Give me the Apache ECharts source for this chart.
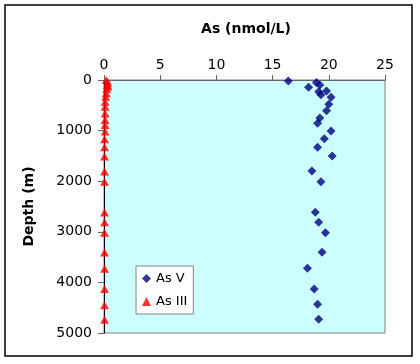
<!DOCTYPE html>
<html><head><meta charset="utf-8">
<script src="https://cdn.jsdelivr.net/npm/echarts@6/dist/echarts.min.js"></script>
<style>html,body{margin:0;padding:0;background:#fff}#c{width:420px;height:364px}</style>
</head><body><div id="c"></div>
<script>
const xTicks = [0, 5, 10, 15, 20, 25];
const yTicks = [0, 1000, 2000, 3000, 4000, 5000];
const asVDepth = [20, 50, 100, 145, 215, 230, 290, 340, 480, 607, 750, 856, 1008, 1160, 1330, 1500, 1800, 2010, 2615, 2812, 3017, 3405, 3722, 4130, 4433, 4730];
const asVValue = [16.4, 18.9, 19.2, 18.2, 19.8, 19.1, 19.3, 20.2, 20.0, 19.8, 19.2, 19.0, 20.2, 19.6, 19.0, 20.3, 18.5, 19.3, 18.8, 19.1, 19.7, 19.4, 18.1, 18.7, 19.0, 19.1];
const asIIIDepth = [0, 50, 100, 130, 180, 260, 330, 430, 530, 660, 790, 890, 1020, 1170, 1330, 1510, 1810, 2010, 2620, 2810, 3020, 3410, 3730, 4130, 4450, 4740];
const asIIIValue = [0.2, 0.35, 0.3, 0.35, 0.25, 0.2, 0.15, 0.1, 0.1, 0.1, 0.1, 0.1, 0.1, 0.05, 0.05, 0.05, 0.05, 0.05, 0.05, 0.05, 0.05, 0.05, 0.05, 0.05, 0.05, 0.05];

const font = 'DejaVu Sans';
const chart = echarts.init(document.getElementById('c'), null, {renderer: 'canvas'});
chart.setOption({
  animation: false,
  backgroundColor: '#fff',
  title: {
    text: 'As (nmol/L)', left: 241, top: 17, textAlign: 'center',
    textStyle: {fontFamily: font, fontSize: 14, fontWeight: 'bold', color: '#000'}
  },
  graphic: [{
    type: 'rect', shape: {x: 5, y: 5, width: 407, height: 351},
    style: {fill: 'none', stroke: '#000', lineWidth: 1.5}, z: 100
  }],
  grid: {
    left: 104, top: 80, right: 35, bottom: 31,
    show: true, backgroundColor: '#CCFFFF', borderColor: '#808080', borderWidth: 1
  },
  legend: {
    orient: 'vertical', left: 136, top: 266,
    data: [{name: 'As V', icon: 'diamond'}, {name: 'As III', icon: 'triangle'}],
    itemWidth: 9, itemHeight: 9, itemGap: 10, padding: [6, 6, 6, 6],
    backgroundColor: '#fff', borderColor: '#808080', borderWidth: 1,
    textStyle: {fontFamily: font, fontSize: 13, color: '#000'}
  },
  xAxis: {
    type: 'value', position: 'top', min: 0, max: 25, interval: 5,
    axisLine: {show: true, lineStyle: {color: '#666', width: 1}},
    axisTick: {show: true, inside: false, length: 5, lineStyle: {color: '#666'}},
    axisLabel: {fontFamily: font, fontSize: 14, color: '#000', margin: 8,
      formatter: v => xTicks.includes(v) ? String(v) : ''},
    splitLine: {show: false}
  },
  yAxis: {
    type: 'value', inverse: true, min: 0, max: 5000, interval: 1000,
    name: 'Depth (m)', nameLocation: 'middle', nameGap: 68, nameRotate: 90,
    nameTextStyle: {fontFamily: font, fontSize: 14, fontWeight: 'bold', color: '#000'},
    axisLine: {show: true, lineStyle: {color: '#000', width: 1}},
    axisTick: {show: true, inside: false, length: 6, lineStyle: {color: '#666'}},
    axisLabel: {fontFamily: font, fontSize: 14, color: '#000', margin: 12,
      formatter: v => yTicks.includes(v) ? String(v) : ''},
    splitLine: {show: false}
  },
  series: [{
    name: 'As V', type: 'scatter', symbol: 'diamond', symbolSize: [9, 9],
    itemStyle: {color: '#000080'},
    data: asVValue.map((v, i) => [v, asVDepth[i]]), z: 3
  }, {
    name: 'As III', type: 'scatter', symbol: 'triangle', symbolSize: [9, 8],
    itemStyle: {color: '#FF0000'},
    data: asIIIValue.map((v, i) => [v, asIIIDepth[i]]), z: 4
  }]
});
</script></body></html>
